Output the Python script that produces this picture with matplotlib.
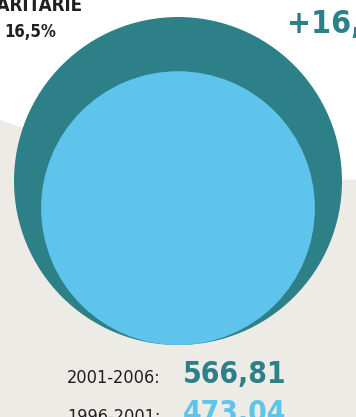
import matplotlib.pyplot as plt
from matplotlib.patches import Circle, Rectangle

# periods and values compared by the two circles
periods = ["2001-2006:", "1996-2001:"]
values = [566.81, 473.04]
value_labels = ["566,81", "473,04"]
colors = ["#2E8088", "#5EC4EC"]

share_title = "PARITARIE"
share_value = "16,5%"
growth_label = "+16,5%"

font = dict(family="DejaVu Sans", stretch="condensed")

W, H = 356, 417
fig = plt.figure(figsize=(W / 100, H / 100), dpi=100)
ax = fig.add_axes([0, 0, 1, 1])
ax.set_xlim(0, W)
ax.set_ylim(H, 0)
ax.axis("off")

# grey backdrop with a wide white arc across the top
ax.add_patch(Rectangle((0, 0), W, H, color="#ECEBE6", zorder=0))
ax.add_patch(Circle((342, -828), 1007, color="white", zorder=1))

# circles share a common base, radius proportional to the value
base_y = 345
cx = 178
r_max = 164
for v, c in zip(values, colors):
    r = v / max(values) * r_max
    ax.add_patch(Circle((cx, base_y - r), r, color=c, zorder=2, lw=0))

ax.text(35, 11, share_title, ha="center", va="baseline", fontsize=13.5,
        fontweight="bold", color="#231F20", zorder=3, **font)
ax.text(30, 37, share_value, ha="center", va="baseline", fontsize=12,
        fontweight="bold", color="#231F20", zorder=3, **font)
ax.text(287, 33, growth_label, ha="left", va="baseline", fontsize=23,
        fontweight="bold", color=colors[0], zorder=3, **font)

for i, (p, lab, c) in enumerate(zip(periods, value_labels, colors)):
    y = 383 + i * 39
    ax.text(161, y, p, ha="right", va="baseline", fontsize=13,
            color="#231F20", zorder=3, **font)
    ax.text(183, y, lab, ha="left", va="baseline", fontsize=21.5,
            fontweight="bold", color=c, zorder=3, **font)

fig.savefig("out.png", dpi=100)
